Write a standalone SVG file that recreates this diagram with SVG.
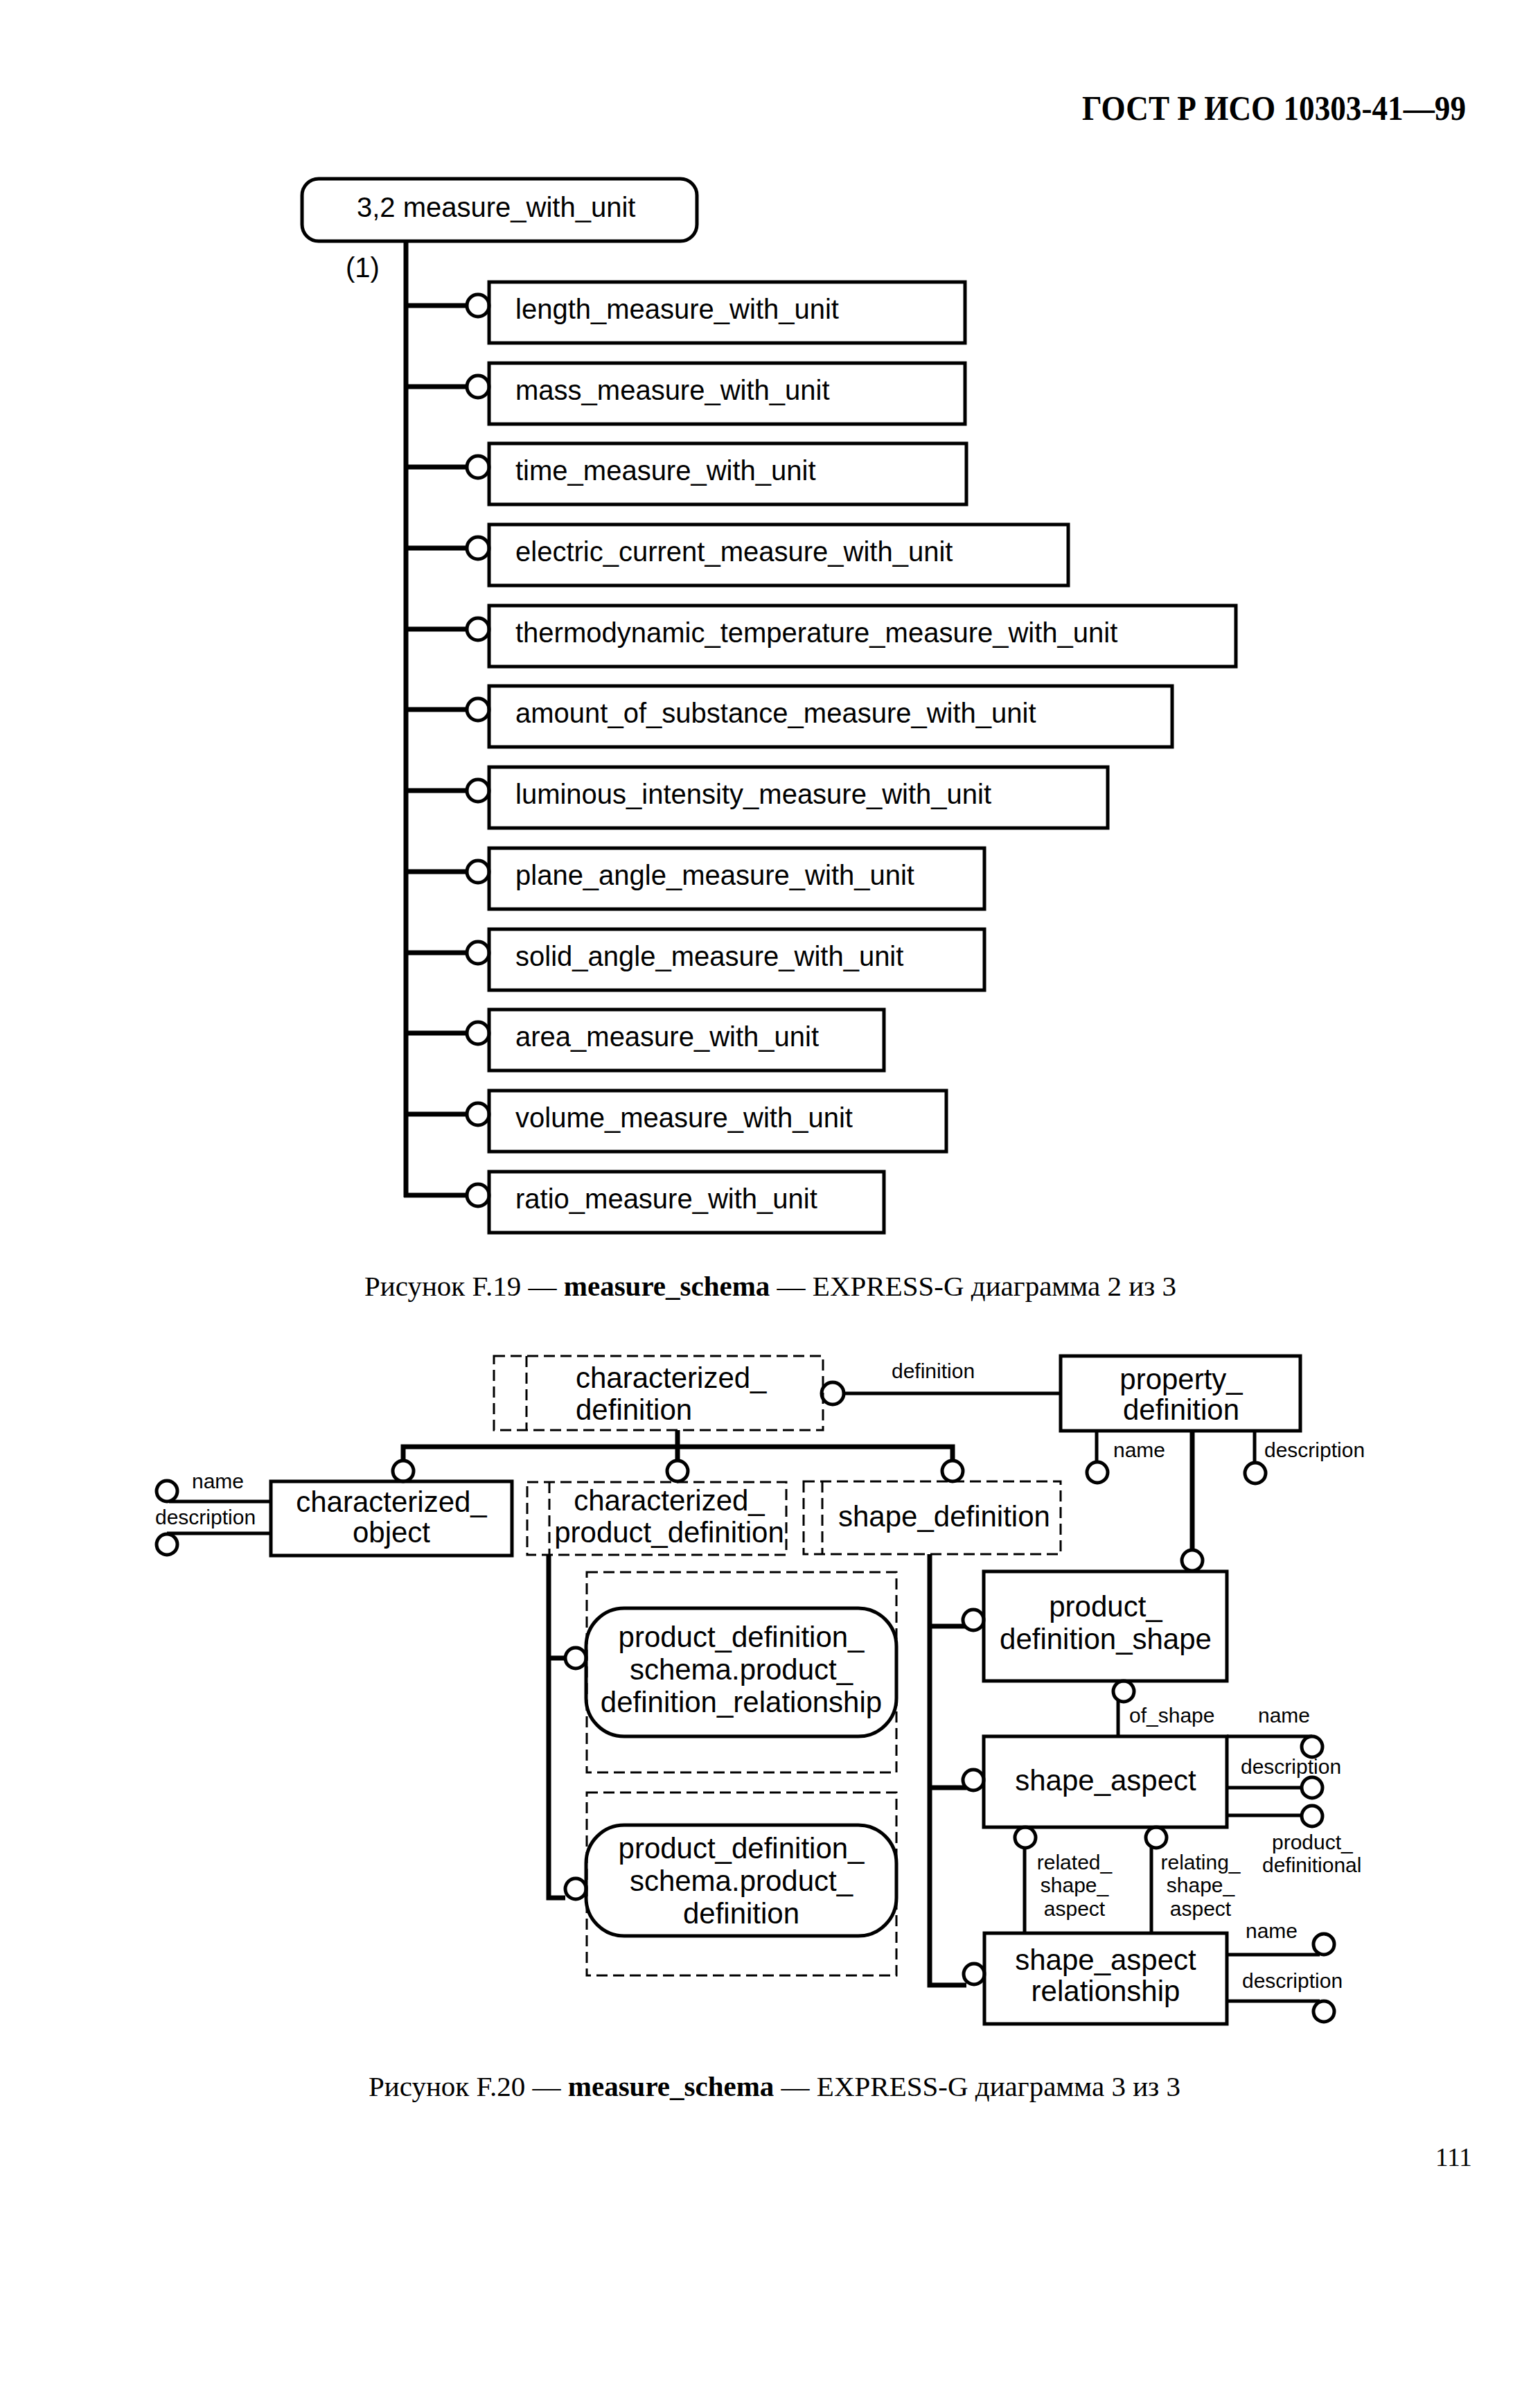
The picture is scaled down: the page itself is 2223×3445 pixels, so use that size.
<svg xmlns="http://www.w3.org/2000/svg" width="2223" height="3445" viewBox="0 0 2223 3445">
<style>
.box{fill:none;stroke:#000;stroke-width:5}
.dash{fill:none;stroke:#000;stroke-width:3;stroke-dasharray:16 8}
.thick{fill:none;stroke:#000;stroke-width:7}
.thin{fill:none;stroke:#000;stroke-width:5}
.circ{fill:#fff;stroke:#000;stroke-width:5}
.t{font-family:"Liberation Sans",Arial,sans-serif;font-size:40px;fill:#000}
.m{font-size:42px}
.s{font-size:30px}
.c{text-anchor:middle}
.serif{font-family:"Liberation Serif","Times New Roman",serif;fill:#000}
</style>
<rect width="2223" height="3445" fill="#fff"/>
<text class="serif" x="1562" y="173" font-size="50" font-weight="bold" textLength="554" lengthAdjust="spacingAndGlyphs">ГОСТ Р ИСО 10303-41—99</text>

<g id="connectors">
  <!-- top tree -->
  <line class="thick" x1="586" y1="348" x2="586" y2="1728"/>
  <line class="thick" x1="583" y1="441" x2="676" y2="441"/>
  <line class="thick" x1="583" y1="558" x2="676" y2="558"/>
  <line class="thick" x1="583" y1="674" x2="676" y2="674"/>
  <line class="thick" x1="583" y1="791" x2="676" y2="791"/>
  <line class="thick" x1="583" y1="908" x2="676" y2="908"/>
  <line class="thick" x1="583" y1="1024" x2="676" y2="1024"/>
  <line class="thick" x1="583" y1="1141" x2="676" y2="1141"/>
  <line class="thick" x1="583" y1="1258" x2="676" y2="1258"/>
  <line class="thick" x1="583" y1="1375" x2="676" y2="1375"/>
  <line class="thick" x1="583" y1="1491" x2="676" y2="1491"/>
  <line class="thick" x1="583" y1="1608" x2="676" y2="1608"/>
  <line class="thick" x1="583" y1="1725" x2="676" y2="1725"/>
  <circle class="circ" cx="690" cy="441" r="16"/>
  <circle class="circ" cx="690" cy="558" r="16"/>
  <circle class="circ" cx="690" cy="674" r="16"/>
  <circle class="circ" cx="690" cy="791" r="16"/>
  <circle class="circ" cx="690" cy="908" r="16"/>
  <circle class="circ" cx="690" cy="1024" r="16"/>
  <circle class="circ" cx="690" cy="1141" r="16"/>
  <circle class="circ" cx="690" cy="1258" r="16"/>
  <circle class="circ" cx="690" cy="1375" r="16"/>
  <circle class="circ" cx="690" cy="1491" r="16"/>
  <circle class="circ" cx="690" cy="1608" r="16"/>
  <circle class="circ" cx="690" cy="1725" r="16"/>

  <!-- bottom diagram -->
  <line class="thin" x1="1218" y1="2011" x2="1531" y2="2011"/>
  <circle class="circ" cx="1202" cy="2011" r="16"/>
  <text class="t s" x="1287" y="1989">definition</text>

  <line class="thin" x1="1583" y1="2065" x2="1583" y2="2110"/>
  <circle class="circ" cx="1584" cy="2125" r="15"/>
  <text class="t s" x="1607" y="2103">name</text>
  <line class="thin" x1="1811" y1="2065" x2="1811" y2="2111"/>
  <circle class="circ" cx="1812" cy="2126" r="15"/>
  <text class="t s" x="1825" y="2103">description</text>
  <line class="thick" x1="1721" y1="2065" x2="1721" y2="2237"/>
  <circle class="circ" cx="1721" cy="2252" r="15"/>

  <line class="thick" x1="978" y1="2064" x2="978" y2="2108"/>
  <polyline class="thick" points="582,2108 582,2088 1375,2088 1375,2108"/>
  <circle class="circ" cx="582" cy="2123" r="15"/>
  <circle class="circ" cx="978" cy="2123" r="15"/>
  <circle class="circ" cx="1375" cy="2123" r="15"/>

  <line class="thin" x1="391" y1="2167" x2="244" y2="2167"/>
  <circle class="circ" cx="241" cy="2152" r="15"/>
  <text class="t s" x="277" y="2148">name</text>
  <line class="thin" x1="391" y1="2213" x2="241" y2="2213"/>
  <circle class="circ" cx="241" cy="2229" r="15"/>
  <text class="t s" x="224" y="2200">description</text>

  <polyline class="thick" points="792,2244 792,2739 816,2739"/>
  <line class="thick" x1="792" y1="2393" x2="816" y2="2393"/>
  <circle class="circ" cx="831" cy="2393" r="15"/>
  <circle class="circ" cx="831" cy="2726" r="15"/>

  <polyline class="thick" points="1342,2243 1342,2865 1395,2865"/>
  <line class="thick" x1="1342" y1="2347" x2="1395" y2="2347"/>
  <line class="thick" x1="1342" y1="2580" x2="1395" y2="2580"/>
  <circle class="circ" cx="1405" cy="2338" r="15"/>
  <circle class="circ" cx="1405" cy="2569" r="15"/>
  <circle class="circ" cx="1406" cy="2849" r="15"/>

  <line class="thin" x1="1614" y1="2441" x2="1614" y2="2506"/>
  <circle class="circ" cx="1622" cy="2441" r="15"/>
  <text class="t s" x="1630" y="2486">of_shape</text>

  <line class="thin" x1="1771" y1="2506" x2="1894" y2="2506"/>
  <circle class="circ" cx="1894" cy="2521" r="15"/>
  <text class="t s" x="1816" y="2486">name</text>
  <line class="thin" x1="1771" y1="2580" x2="1880" y2="2580"/>
  <circle class="circ" cx="1894" cy="2580" r="15"/>
  <text class="t s" x="1791" y="2560">description</text>
  <line class="thin" x1="1771" y1="2620" x2="1880" y2="2620"/>
  <circle class="circ" cx="1894" cy="2621" r="15"/>
  <text class="t s" x="1836" y="2669">product_</text>
  <text class="t s" x="1822" y="2702">definitional</text>

  <line class="thin" x1="1479" y1="2652" x2="1479" y2="2790"/>
  <circle class="circ" cx="1480" cy="2652" r="15"/>
  <text class="t s c" x="1551" y="2698">related_</text>
  <text class="t s c" x="1551" y="2731">shape_</text>
  <text class="t s c" x="1551" y="2765">aspect</text>
  <line class="thin" x1="1662" y1="2652" x2="1662" y2="2790"/>
  <circle class="circ" cx="1669" cy="2652" r="15"/>
  <text class="t s c" x="1733" y="2698">relating_</text>
  <text class="t s c" x="1733" y="2731">shape_</text>
  <text class="t s c" x="1733" y="2765">aspect</text>

  <line class="thin" x1="1771" y1="2821" x2="1905" y2="2821"/>
  <circle class="circ" cx="1911" cy="2806" r="15"/>
  <text class="t s" x="1798" y="2797">name</text>
  <line class="thin" x1="1771" y1="2888" x2="1905" y2="2888"/>
  <circle class="circ" cx="1911" cy="2903" r="15"/>
  <text class="t s" x="1793" y="2869">description</text>
</g>

<g id="measure_with_unit">
  <rect class="box" x="436" y="258" width="570" height="90" rx="24"/>
  <text class="t" x="515" y="313">3,2 measure_with_unit</text>
  <text class="t" x="499" y="400">(1)</text>
</g>
<g id="length_measure_with_unit"><rect class="box" x="706" y="407" width="687" height="88"/><text class="t" x="744" y="460">length_measure_with_unit</text></g>
<g id="mass_measure_with_unit"><rect class="box" x="706" y="524" width="687" height="88"/><text class="t" x="744" y="577">mass_measure_with_unit</text></g>
<g id="time_measure_with_unit"><rect class="box" x="706" y="640" width="689" height="88"/><text class="t" x="744" y="693">time_measure_with_unit</text></g>
<g id="electric_current_measure_with_unit"><rect class="box" x="706" y="757" width="836" height="88"/><text class="t" x="744" y="810">electric_current_measure_with_unit</text></g>
<g id="thermodynamic_temperature_measure_with_unit"><rect class="box" x="706" y="874" width="1078" height="88"/><text class="t" x="744" y="927">thermodynamic_temperature_measure_with_unit</text></g>
<g id="amount_of_substance_measure_with_unit"><rect class="box" x="706" y="990" width="986" height="88"/><text class="t" x="744" y="1043">amount_of_substance_measure_with_unit</text></g>
<g id="luminous_intensity_measure_with_unit"><rect class="box" x="706" y="1107" width="893" height="88"/><text class="t" x="744" y="1160">luminous_intensity_measure_with_unit</text></g>
<g id="plane_angle_measure_with_unit"><rect class="box" x="706" y="1224" width="715" height="88"/><text class="t" x="744" y="1277">plane_angle_measure_with_unit</text></g>
<g id="solid_angle_measure_with_unit"><rect class="box" x="706" y="1341" width="715" height="88"/><text class="t" x="744" y="1394">solid_angle_measure_with_unit</text></g>
<g id="area_measure_with_unit"><rect class="box" x="706" y="1457" width="570" height="88"/><text class="t" x="744" y="1510">area_measure_with_unit</text></g>
<g id="volume_measure_with_unit"><rect class="box" x="706" y="1574" width="660" height="88"/><text class="t" x="744" y="1627">volume_measure_with_unit</text></g>
<g id="ratio_measure_with_unit"><rect class="box" x="706" y="1691" width="570" height="88"/><text class="t" x="744" y="1744">ratio_measure_with_unit</text></g>

<text class="serif" x="526" y="1870" font-size="41">Рисунок F.19 — <tspan font-weight="bold">measure_schema</tspan> — EXPRESS-G диаграмма 2 из 3</text>

<g id="characterized_definition">
  <rect class="dash" x="713" y="1957" width="475" height="107"/>
  <line class="dash" x1="760" y1="1957" x2="760" y2="2064"/>
  <text class="t m" x="831" y="2003">characterized_</text>
  <text class="t m" x="831" y="2049">definition</text>
</g>
<g id="property_definition">
  <rect class="box" x="1531" y="1957" width="346" height="108"/>
  <text class="t m c" x="1705" y="2005">property_</text>
  <text class="t m c" x="1705" y="2049">definition</text>
</g>
<g id="characterized_object">
  <rect class="box" x="391" y="2138" width="348" height="107"/>
  <text class="t m c" x="565" y="2182">characterized_</text>
  <text class="t m c" x="565" y="2226">object</text>
</g>
<g id="characterized_product_definition">
  <rect class="dash" x="761" y="2139" width="374" height="105"/>
  <line class="dash" x1="793" y1="2139" x2="793" y2="2244"/>
  <text class="t m c" x="966" y="2180">characterized_</text>
  <text class="t m c" x="966" y="2226">product_definition</text>
</g>
<g id="shape_definition">
  <rect class="dash" x="1160" y="2138" width="371" height="105"/>
  <line class="dash" x1="1187" y1="2138" x2="1187" y2="2243"/>
  <text class="t m" x="1210" y="2203">shape_definition</text>
</g>
<g id="product_definition_relationship">
  <rect class="dash" x="847" y="2269" width="447" height="289"/>
  <rect class="box" x="846" y="2321" width="448" height="185" rx="55"/>
  <text class="t m c" x="1070" y="2377">product_definition_</text>
  <text class="t m c" x="1070" y="2424">schema.product_</text>
  <text class="t m c" x="1070" y="2471">definition_relationship</text>
</g>
<g id="product_definition">
  <rect class="dash" x="847" y="2587" width="447" height="264"/>
  <rect class="box" x="846" y="2634" width="448" height="160" rx="55"/>
  <text class="t m c" x="1070" y="2682">product_definition_</text>
  <text class="t m c" x="1070" y="2729">schema.product_</text>
  <text class="t m c" x="1070" y="2776">definition</text>
</g>
<g id="product_definition_shape">
  <rect class="box" x="1420" y="2268" width="351" height="158"/>
  <text class="t m c" x="1596" y="2333">product_</text>
  <text class="t m c" x="1596" y="2380">definition_shape</text>
</g>
<g id="shape_aspect">
  <rect class="box" x="1420" y="2506" width="351" height="131"/>
  <text class="t m c" x="1596" y="2584">shape_aspect</text>
</g>
<g id="shape_aspect_relationship">
  <rect class="box" x="1421" y="2790" width="350" height="131"/>
  <text class="t m c" x="1596" y="2843">shape_aspect</text>
  <text class="t m c" x="1596" y="2888">relationship</text>
</g>

<text class="serif" x="532" y="3025" font-size="41">Рисунок F.20 — <tspan font-weight="bold">measure_schema</tspan> — EXPRESS-G диаграмма 3 из 3</text>
<text class="serif" x="2072" y="3126" font-size="37">111</text>
</svg>
